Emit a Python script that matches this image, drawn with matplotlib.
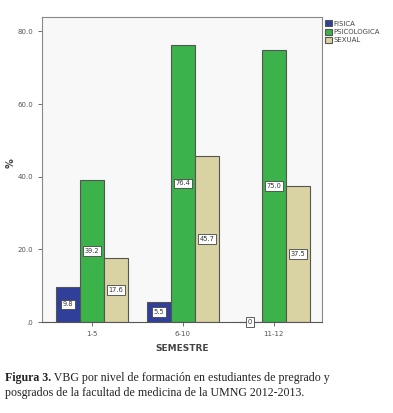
import matplotlib
matplotlib.use("Agg")
import matplotlib.pyplot as plt
import numpy as np

# datos
semestres = ["1-5", "6-10", "11-12"]
fisica = [9.8, 5.5, 0.0]
psicologica = [39.2, 76.4, 75.0]
sexual = [17.6, 45.7, 37.5]
series = ["FISICA", "PSICOLOGICA", "SEXUAL"]
colores = ["#2f3f9a", "#3bb24a", "#d9d2a2"]
yticks = [0, 20, 40, 60, 80]
ytick_labels = [".0", "20.0", "40.0", "60.0", "80.0"]

fig = plt.figure(figsize=(3.93, 4.13), dpi=100)
ax = fig.add_axes([0.107, 0.22, 0.712, 0.739])
ax.set_facecolor("#f8f8f8")

x = np.arange(len(semestres))
w = 0.264
for i, (vals, nombre, col) in enumerate(zip([fisica, psicologica, sexual], series, colores)):
    pos = x + (i - 1) * w
    ax.bar(pos, vals, w, color=col, edgecolor="#555555", linewidth=0.8, label=nombre)
    for p, v in zip(pos, vals):
        txt = "0" if v == 0 else "%.1f" % v
        ax.text(p, v / 2, txt, ha="center", va="center", fontsize=4.8, color="#333333",
                bbox=dict(boxstyle="square,pad=0.25", fc="white", ec="#444444", lw=0.6))

ax.set_xlim(-0.55, 2.53)
ax.set_ylim(0, 84)
ax.set_yticks(yticks)
ax.set_yticklabels(ytick_labels)
ax.set_xticks(x)
ax.set_xticklabels(semestres)
ax.tick_params(labelsize=5, colors="#555555", length=3, width=0.6)
for s in ax.spines.values():
    s.set_color("#888888")
    s.set_linewidth(0.8)
ax.spines["bottom"].set_color("#555555")
ax.set_xlabel("SEMESTRE", fontsize=6.5, fontweight="bold", color="#444444", labelpad=5)
ax.set_ylabel("%", fontsize=7, fontweight="bold", color="#444444")
ax.yaxis.set_label_coords(-0.095, 0.52)

leg = ax.legend(loc="upper left", bbox_to_anchor=(1.0, 1.0), frameon=False, fontsize=5,
                handlelength=1.0, handleheight=0.9, handletextpad=0.2, borderaxespad=0.1,
                labelspacing=0.3)
for t in leg.get_texts():
    t.set_color("#444444")

# pie de figura
t1 = fig.text(0.013, 0.077, "Figura 3.", fontsize=8.6, fontweight="bold",
              family="Liberation Serif", color="#222222")
ax.annotate(" VBG por nivel de formación en estudiantes de pregrado y", xy=(1, 0),
            xycoords=t1, va="bottom", fontsize=8.6, family="Liberation Serif",
            color="#222222", annotation_clip=False)
fig.text(0.013, 0.041, "posgrados de la facultad de medicina de la UMNG 2012-2013.",
         fontsize=8.6, family="Liberation Serif", color="#222222")

fig.savefig("out.png", dpi=100)
